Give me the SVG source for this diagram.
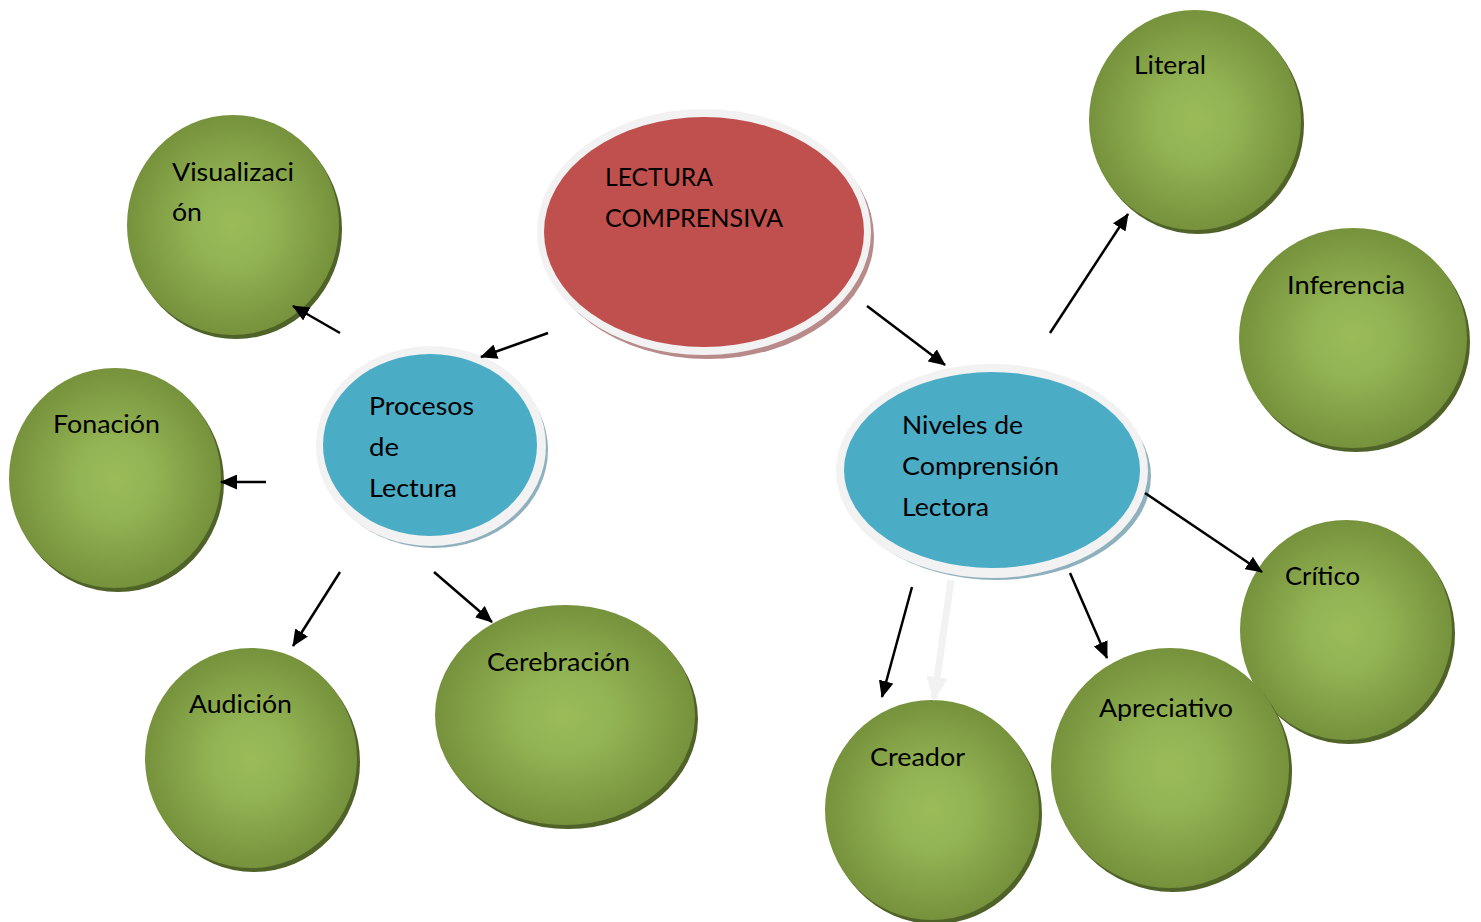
<svg xmlns="http://www.w3.org/2000/svg" width="1481" height="922" viewBox="0 0 1481 922">
<defs>
<radialGradient id="gg" cx="50%" cy="50%" r="50%">
<stop offset="0" stop-color="#9bbb59"/>
<stop offset="0.35" stop-color="#93b454"/>
<stop offset="1" stop-color="#76923c"/>
</radialGradient>
<marker id="ah" markerUnits="userSpaceOnUse" markerWidth="17" markerHeight="15" refX="16" refY="7.5" orient="auto">
<path d="M0,0 L17,7.5 L0,15 Z" fill="#000"/>
</marker>
<marker id="ahg" markerUnits="userSpaceOnUse" markerWidth="24" markerHeight="22" refX="22" refY="11" orient="auto">
<path d="M0,0 L24,11 L0,22 Z" fill="#f2f2f2"/>
</marker>
</defs>
<style>
.sh{fill:#4f6228}
.g{fill:url(#gg)}
.t{font-family:Lato,"Open Sans","Liberation Sans",sans-serif;font-size:25px;fill:#000}
.rim{fill:#f2f2f2}
.c{stroke:#000;stroke-width:2.5;fill:none;marker-end:url(#ah)}
</style>
<rect width="1481" height="922" fill="#fff"/>

<g id="central">
<ellipse cx="708" cy="237" rx="166" ry="122" fill="#b88a8a"/>
<ellipse cx="704" cy="232" rx="167" ry="123" class="rim"/>
<ellipse cx="704" cy="232" rx="160" ry="115" fill="#c0504d"/>
<text class="t" x="605" y="186" textLength="108" lengthAdjust="spacingAndGlyphs">LECTURA</text>
<text class="t" x="605" y="227" textLength="178" lengthAdjust="spacingAndGlyphs">COMPRENSIVA</text>
</g>

<g id="procesos">
<ellipse cx="434" cy="450" rx="114" ry="98" fill="#8fb0bd"/>
<ellipse cx="431" cy="446" rx="115" ry="100" class="rim"/>
<ellipse cx="430" cy="445" rx="107" ry="91" fill="#4bacc6"/>
<text class="t" x="369" y="415" textLength="105" lengthAdjust="spacingAndGlyphs">Procesos</text>
<text class="t" x="369" y="456" textLength="30" lengthAdjust="spacingAndGlyphs">de</text>
<text class="t" x="369" y="497" textLength="88" lengthAdjust="spacingAndGlyphs">Lectura</text>
</g>

<g id="niveles">
<ellipse cx="996" cy="476" rx="155" ry="104" fill="#8fb0bd"/>
<ellipse cx="992" cy="471" rx="156" ry="107" class="rim"/>
<ellipse cx="992" cy="470" rx="148" ry="98" fill="#4bacc6"/>
<text class="t" x="902" y="434" textLength="121" lengthAdjust="spacingAndGlyphs">Niveles de</text>
<text class="t" x="902" y="475" textLength="157" lengthAdjust="spacingAndGlyphs">Comprensión</text>
<text class="t" x="902" y="516" textLength="87" lengthAdjust="spacingAndGlyphs">Lectora</text>
</g>

<g id="visualizacion">
<ellipse class="sh" cx="236" cy="229" rx="106" ry="110"/>
<ellipse class="g" cx="233" cy="225" rx="106" ry="110"/>
<text class="t" x="172" y="181" textLength="122" lengthAdjust="spacingAndGlyphs">Visualizaci</text>
<text class="t" x="172" y="221" textLength="30" lengthAdjust="spacingAndGlyphs">ón</text>
</g>

<g id="fonacion">
<ellipse class="sh" cx="118" cy="482" rx="106" ry="110"/>
<ellipse class="g" cx="115" cy="478" rx="106" ry="110"/>
<text class="t" x="53" y="433" textLength="107" lengthAdjust="spacingAndGlyphs">Fonación</text>
</g>

<g id="audicion">
<ellipse class="sh" cx="254" cy="762" rx="106" ry="110"/>
<ellipse class="g" cx="251" cy="758" rx="106" ry="110"/>
<text class="t" x="189" y="713" textLength="103" lengthAdjust="spacingAndGlyphs">Audición</text>
</g>

<g id="cerebracion">
<ellipse class="sh" cx="568" cy="719" rx="130" ry="110"/>
<ellipse class="g" cx="565" cy="715" rx="130" ry="110"/>
<text class="t" x="487" y="671" textLength="143" lengthAdjust="spacingAndGlyphs">Cerebración</text>
</g>

<g id="literal">
<ellipse class="sh" cx="1198" cy="124" rx="106" ry="110"/>
<ellipse class="g" cx="1195" cy="120" rx="106" ry="110"/>
<text class="t" x="1134" y="74" textLength="72" lengthAdjust="spacingAndGlyphs">Literal</text>
</g>

<g id="inferencia">
<ellipse class="sh" cx="1356" cy="342" rx="114" ry="110"/>
<ellipse class="g" cx="1353" cy="338" rx="114" ry="110"/>
<text class="t" x="1287" y="294" textLength="118" lengthAdjust="spacingAndGlyphs">Inferencia</text>
</g>

<g id="critico">
<ellipse class="sh" cx="1349" cy="634" rx="106" ry="110"/>
<ellipse class="g" cx="1346" cy="630" rx="106" ry="110"/>
<text class="t" x="1285" y="585" textLength="75" lengthAdjust="spacingAndGlyphs">Crítico</text>
</g>

<g id="apreciativo">
<ellipse class="sh" cx="1173" cy="772" rx="119" ry="120"/>
<ellipse class="g" cx="1170" cy="768" rx="119" ry="120"/>
<text class="t" x="1099" y="717" textLength="134" lengthAdjust="spacingAndGlyphs">Apreciativo</text>
</g>

<g id="creador">
<ellipse class="sh" cx="935" cy="814" rx="107" ry="110"/>
<ellipse class="g" cx="932" cy="810" rx="107" ry="110"/>
<text class="t" x="870" y="766" textLength="95" lengthAdjust="spacingAndGlyphs">Creador</text>
</g>

<g id="connectors">
<line class="c" x1="548" y1="333" x2="481" y2="357"/>
<line class="c" x1="867" y1="306" x2="945" y2="365"/>
<line class="c" x1="340" y1="333" x2="293" y2="306"/>
<line class="c" x1="266" y1="482" x2="221" y2="482"/>
<line class="c" x1="340" y1="572" x2="293" y2="646"/>
<line class="c" x1="434" y1="572" x2="492" y2="622"/>
<line class="c" x1="1050" y1="333" x2="1128" y2="214"/>
<line class="c" x1="1145" y1="493" x2="1262" y2="572"/>
<line class="c" x1="1070" y1="573" x2="1107" y2="658"/>
<line class="c" x1="912" y1="587" x2="882" y2="697"/>
<line x1="951" y1="580" x2="934" y2="699" stroke="#f2f2f2" stroke-width="7" marker-end="url(#ahg)"/>
</g>
</svg>
